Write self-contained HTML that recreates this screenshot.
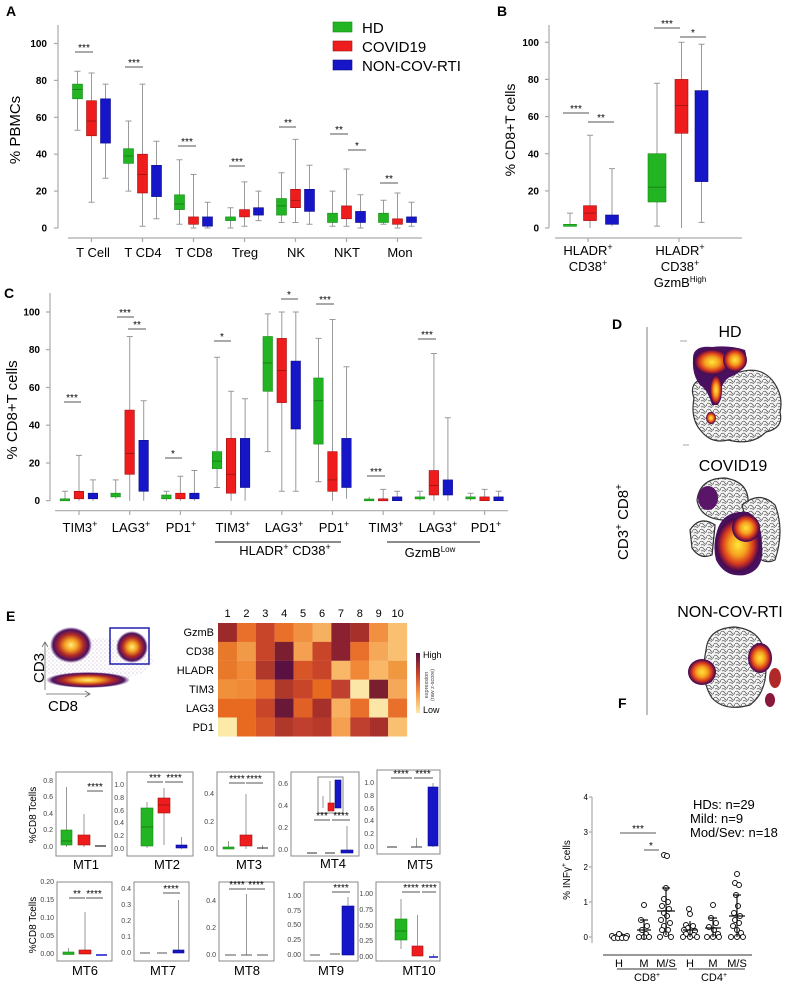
<!DOCTYPE html>
<html><head><meta charset="utf-8"><style>
html,body{margin:0;padding:0;background:#fff}
svg{display:block;font-family:"Liberation Sans",sans-serif}
.w{stroke:#9a9a9a;stroke-width:1;fill:none}
.g{fill:#22b422;stroke:#178a17;stroke-width:.6}
.r{fill:#ee1c1c;stroke:#a01010;stroke-width:.6}
.b{fill:#1616c8;stroke:#0c0c88;stroke-width:.6}
.m{stroke:#000;stroke-opacity:.35;stroke-width:.8}
.ax{stroke:#aaa;stroke-width:1.2;fill:none}
.tk{font-size:10px;font-weight:bold;text-anchor:end}
.cat{font-size:13px;text-anchor:middle}
.sg{stroke:#555;stroke-width:1;fill:none}
.st{font-size:10px;text-anchor:middle}
.fr{fill:none;stroke:#888;stroke-width:1}
.mt{font-size:7px;text-anchor:end;fill:#444}
.ml{font-size:13px;text-anchor:middle}
.pl{font-size:14px;font-weight:bold}
.dot{fill:#fff;stroke:#111;stroke-width:1}
</style></head><body>
<svg width="800" height="984" viewBox="0 0 800 984" xmlns="http://www.w3.org/2000/svg">
<defs>
<radialGradient id="hm"><stop offset="0" stop-color="#ffe83a"/><stop offset=".4" stop-color="#f5a020"/><stop offset=".7" stop-color="#d83a1c"/><stop offset=".9" stop-color="#6a1048"/><stop offset="1" stop-color="#3a0a50"/></radialGradient>
<radialGradient id="fl"><stop offset="0" stop-color="#fff080"/><stop offset=".3" stop-color="#f5a020"/><stop offset=".6" stop-color="#b02828"/><stop offset=".85" stop-color="#4a1060"/><stop offset="1" stop-color="#4a1060" stop-opacity="0"/></radialGradient>
<pattern id="ct" width="7" height="6" patternUnits="userSpaceOnUse"><rect width="7" height="6" fill="#f4f4f4"/><path d="M0 2 Q2 0 4 3 T7 2M1 5 Q3 4 5 6" stroke="#555" stroke-width=".7" fill="none"/></pattern>
<pattern id="sp" width="4" height="4" patternUnits="userSpaceOnUse"><circle cx="1" cy="1" r=".5" fill="#4a1060"/><circle cx="3" cy="3" r=".4" fill="#4a1060"/></pattern>
</defs>

<!-- ============ PANEL A ============ -->
<text x="6" y="16" class="pl">A</text>
<line class="ax" x1="58" y1="25" x2="58" y2="228"/>
<line class="ax" x1="68" y1="238" x2="422" y2="238"/>
<g class="tk"><text x="47" y="231.5">0</text><text x="47" y="194.6">20</text><text x="47" y="157.7">40</text><text x="47" y="120.8">60</text><text x="47" y="83.9">80</text><text x="47" y="47">100</text></g>
<g class="ax"><line x1="54" y1="228" x2="58" y2="228"/><line x1="54" y1="191.1" x2="58" y2="191.1"/><line x1="54" y1="154.2" x2="58" y2="154.2"/><line x1="54" y1="117.3" x2="58" y2="117.3"/><line x1="54" y1="80.4" x2="58" y2="80.4"/><line x1="54" y1="43.5" x2="58" y2="43.5"/></g>
<text transform="translate(20,130) rotate(-90)" font-size="15" text-anchor="middle">% PBMCs</text>
<g class="ax"><line x1="91.5" y1="238" x2="91.5" y2="242"/><line x1="142.5" y1="238" x2="142.5" y2="242"/><line x1="193.5" y1="238" x2="193.5" y2="242"/><line x1="244.5" y1="238" x2="244.5" y2="242"/><line x1="295.5" y1="238" x2="295.5" y2="242"/><line x1="346.5" y1="238" x2="346.5" y2="242"/><line x1="397.5" y1="238" x2="397.5" y2="242"/></g>
<g class="cat"><text x="93" y="257">T Cell</text><text x="143" y="257">T CD4</text><text x="194" y="257">T CD8</text><text x="245" y="257">Treg</text><text x="296" y="257">NK</text><text x="347" y="257">NKT</text><text x="400" y="257">Mon</text></g>
<g>
<path class="w" d="M77.5 130.2V71.2M74.5 130.2h6M74.5 71.2h6"/><rect class="g" x="72.5" y="84.1" width="10" height="14.7"/><line class="m" x1="72.5" x2="82.5" y1="89.6" y2="89.6"/>
<path class="w" d="M91.5 202.2V73M88.5 202.2h6M88.5 73h6"/><rect class="r" x="86.5" y="100.7" width="10" height="35.1"/><line class="m" x1="86.5" x2="96.5" y1="121" y2="121"/>
<path class="w" d="M105.5 178.2V84.1M102.5 178.2h6M102.5 84.1h6"/><rect class="b" x="100.5" y="98.8" width="10" height="44.3"/>
<path class="w" d="M128.5 191.1V121M125.5 191.1h6M125.5 121h6"/><rect class="g" x="123.5" y="148.7" width="10" height="14.7"/><line class="m" x1="123.5" x2="133.5" y1="156" y2="156"/>
<path class="w" d="M142.5 226.2V84.1M139.5 226.2h6M139.5 84.1h6"/><rect class="r" x="137.5" y="154.2" width="10" height="38.8"/><line class="m" x1="137.5" x2="147.5" y1="174.5" y2="174.5"/>
<path class="w" d="M156.5 218.8V141.3M153.5 218.8h6M153.5 141.3h6"/><rect class="b" x="151.5" y="165.3" width="10" height="31.3"/>
<path class="w" d="M179.5 224.3V159.7M176.5 224.3h6M176.5 159.7h6"/><rect class="g" x="174.5" y="194.8" width="10" height="14.8"/><line class="m" x1="174.5" x2="184.5" y1="204" y2="204"/>
<path class="w" d="M193.5 228V174.5M190.5 228h6M190.5 174.5h6"/><rect class="r" x="188.5" y="216.9" width="10" height="7.4"/>
<path class="w" d="M207.5 228V202.2M204.5 228h6M204.5 202.2h6"/><rect class="b" x="202.5" y="216.9" width="10" height="9.3"/>
<path class="w" d="M230.5 228V207.7M227.5 228h6M227.5 207.7h6"/><rect class="g" x="225.5" y="216.9" width="10" height="3.7"/>
<path class="w" d="M244.5 226.2V181.9M241.5 226.2h6M241.5 181.9h6"/><rect class="r" x="239.5" y="209.6" width="10" height="7.3"/>
<path class="w" d="M258.5 220.6V191.1M255.5 220.6h6M255.5 191.1h6"/><rect class="b" x="253.5" y="207.7" width="10" height="7.4"/>
<path class="w" d="M281.5 222.5V172.7M278.5 222.5h6M278.5 172.7h6"/><rect class="g" x="276.5" y="198.5" width="10" height="16.6"/><line class="m" x1="276.5" x2="286.5" y1="205.9" y2="205.9"/>
<path class="w" d="M295.5 222.5V139.4M292.5 222.5h6M292.5 139.4h6"/><rect class="r" x="290.5" y="189.3" width="10" height="18.4"/><line class="m" x1="290.5" x2="300.5" y1="200.3" y2="200.3"/>
<path class="w" d="M309.5 224.3V165.3M306.5 224.3h6M306.5 165.3h6"/><rect class="b" x="304.5" y="189.3" width="10" height="22.1"/>
<path class="w" d="M332.5 226.2V191.1M329.5 226.2h6M329.5 191.1h6"/><rect class="g" x="327.5" y="213.2" width="10" height="9.3"/>
<path class="w" d="M346.5 226.2V169M343.5 226.2h6M343.5 169h6"/><rect class="r" x="341.5" y="205.9" width="10" height="12.9"/>
<path class="w" d="M360.5 228V194.8M357.5 228h6M357.5 194.8h6"/><rect class="b" x="355.5" y="211.4" width="10" height="11.1"/>
<path class="w" d="M383.5 224.3V200.3M380.5 224.3h6M380.5 200.3h6"/><rect class="g" x="378.5" y="213.2" width="10" height="9.3"/>
<path class="w" d="M397.5 228V193M394.5 228h6M394.5 193h6"/><rect class="r" x="392.5" y="218.8" width="10" height="5.5"/>
<path class="w" d="M411.5 226.2V202.2M408.5 226.2h6M408.5 202.2h6"/><rect class="b" x="406.5" y="216.9" width="10" height="5.6"/>
</g>
<path class="sg" d="M75 52h18M125 67h18M178 146h18M229 166h16M279 127h17M330 134h18M348 150h18M380 183h18"/>
<g class="st"><text x="84" y="51">***</text><text x="134" y="66">***</text><text x="187" y="145">***</text><text x="237" y="165">***</text><text x="288" y="126">**</text><text x="339" y="133">**</text><text x="357" y="149">*</text><text x="389" y="182">**</text></g>
<rect x="333" y="22" width="19" height="10" class="g"/><rect x="333" y="41" width="19" height="10" class="r"/><rect x="333" y="60" width="19" height="10" class="b"/>
<g font-size="15"><text x="362" y="33">HD</text><text x="362" y="52">COVID19</text><text x="362" y="71">NON-COV-RTI</text></g>

<!-- ============ PANEL B ============ -->
<text x="497" y="16" class="pl">B</text>
<line class="ax" x1="549" y1="25" x2="549" y2="228"/>
<line class="ax" x1="555" y1="238" x2="742" y2="238"/>
<g class="tk"><text x="539" y="231.5">0</text><text x="539" y="194.4">20</text><text x="539" y="157.3">40</text><text x="539" y="120.1">60</text><text x="539" y="83">80</text><text x="539" y="45.8">100</text></g>
<g class="ax"><line x1="545" y1="228" x2="549" y2="228"/><line x1="545" y1="190.9" x2="549" y2="190.9"/><line x1="545" y1="153.7" x2="549" y2="153.7"/><line x1="545" y1="116.6" x2="549" y2="116.6"/><line x1="545" y1="79.4" x2="549" y2="79.4"/><line x1="545" y1="42.3" x2="549" y2="42.3"/><line x1="588" y1="238" x2="588" y2="242"/><line x1="679" y1="238" x2="679" y2="242"/></g>
<text transform="translate(515,130) rotate(-90)" font-size="14" text-anchor="middle">% CD8+T cells</text>
<path class="w" d="M570 226.1V213.1M567 213.1h6M590 228V135.2M587 135.2h6M612 226.1V168.6M609 168.6h6M657 226.1V83.2M654 226.1h6M654 83.2h6M681.5 228V42.3M678.5 42.3h6M701.5 222.4V44.2M698.5 222.4h6M698.5 44.2h6"/>
<rect class="g" x="563.5" y="224.3" width="13" height="2"/>
<rect class="r" x="583.5" y="205.7" width="13" height="14.9"/><line class="m" x1="583.5" x2="596.5" y1="213.1" y2="213.1"/>
<rect class="b" x="605.5" y="215" width="13" height="9.3"/>
<rect class="g" x="648" y="153.7" width="18" height="48.3"/><line class="m" x1="648" x2="666" y1="187.1" y2="187.1"/>
<rect class="r" x="675" y="79.4" width="13" height="53.9"/><line class="m" x1="675" x2="688" y1="105.4" y2="105.4"/>
<rect class="b" x="695" y="90.6" width="13" height="91"/>
<path class="sg" d="M563 113h26M588 122h26M654 28h26M680 37h26"/>
<g class="st"><text x="576" y="112">***</text><text x="601" y="121">**</text><text x="667" y="27">***</text><text x="693" y="36">*</text></g>
<g class="cat"><text x="588" y="255">HLADR<tspan font-size="9" dy="-5">+</tspan></text><text x="588" y="271">CD38<tspan font-size="9" dy="-5">+</tspan></text>
<text x="680" y="255">HLADR<tspan font-size="9" dy="-5">+</tspan></text><text x="680" y="271">CD38<tspan font-size="9" dy="-5">+</tspan></text><text x="680" y="287">GzmB<tspan font-size="8" dy="-5">High</tspan></text></g>

<!-- ============ PANEL C ============ -->
<text x="4" y="298" class="pl">C</text>
<line class="ax" x1="50" y1="293" x2="50" y2="501"/>
<line class="ax" x1="55" y1="510.7" x2="508" y2="510.7"/>
<g class="tk"><text x="40" y="504.2">0</text><text x="40" y="466.5">20</text><text x="40" y="428.7">40</text><text x="40" y="391">60</text><text x="40" y="353.2">80</text><text x="40" y="315.5">100</text></g>
<g class="ax"><line x1="46" y1="500.7" x2="50" y2="500.7"/><line x1="46" y1="463" x2="50" y2="463"/><line x1="46" y1="425.2" x2="50" y2="425.2"/><line x1="46" y1="387.5" x2="50" y2="387.5"/><line x1="46" y1="349.7" x2="50" y2="349.7"/><line x1="46" y1="312" x2="50" y2="312"/>
<line x1="79" y1="511" x2="79" y2="515"/><line x1="129.7" y1="511" x2="129.7" y2="515"/><line x1="180.4" y1="511" x2="180.4" y2="515"/><line x1="231.1" y1="511" x2="231.1" y2="515"/><line x1="281.8" y1="511" x2="281.8" y2="515"/><line x1="332.5" y1="511" x2="332.5" y2="515"/><line x1="383.2" y1="511" x2="383.2" y2="515"/><line x1="433.9" y1="511" x2="433.9" y2="515"/><line x1="484.6" y1="511" x2="484.6" y2="515"/></g>
<text transform="translate(17,410) rotate(-90)" font-size="15" text-anchor="middle">% CD8+T cells</text>
<g class="cat">
<text x="80" y="532">TIM3<tspan font-size="9" dy="-5">+</tspan></text><text x="131" y="532">LAG3<tspan font-size="9" dy="-5">+</tspan></text><text x="181" y="532">PD1<tspan font-size="9" dy="-5">+</tspan></text>
<text x="233" y="532">TIM3<tspan font-size="9" dy="-5">+</tspan></text><text x="284" y="532">LAG3<tspan font-size="9" dy="-5">+</tspan></text><text x="334" y="532">PD1<tspan font-size="9" dy="-5">+</tspan></text>
<text x="386" y="532">TIM3<tspan font-size="9" dy="-5">+</tspan></text><text x="438" y="532">LAG3<tspan font-size="9" dy="-5">+</tspan></text><text x="486" y="532">PD1<tspan font-size="9" dy="-5">+</tspan></text>
<text x="285" y="555">HLADR<tspan font-size="9" dy="-5">+</tspan><tspan dy="5"> CD38</tspan><tspan font-size="9" dy="-5">+</tspan></text>
<text x="430" y="557">GzmB<tspan font-size="8" dy="-5">Low</tspan></text></g>
<path d="M215 542H341M387 542H480" stroke="#666" stroke-width="1.5"/>
<path class="w" d="M65 500.7V491.3M62 491.3h6M79 500.7V455.4M76 455.4h6M93 500.7V479.9M90 479.9h6
M115.7 498.8V479.9M112.7 479.9h6M129.7 500.7V336.5M126.7 336.5h6M143.7 500.7V400.7M140.7 400.7h6
M166.4 500.7V491.3M163.4 491.3h6M180.4 500.7V476.2M177.4 476.2h6M194.4 500.7V470.5M191.4 470.5h6
M217.1 487.5V357.3M214.1 487.5h6M214.1 357.3h6M231.1 500.7V391.3M228.1 391.3h6M245.1 500.7V398.8M242.1 398.8h6
M267.8 451.6V313.9M264.8 451.6h6M264.8 313.9h6M281.8 491.3V312M278.8 491.3h6M278.8 312h6M295.8 491.3V312M292.8 491.3h6M292.8 312h6
M318.5 481.8V338.4M315.5 481.8h6M315.5 338.4h6M332.5 500.7V319.5M329.5 319.5h6M346.5 498.8V366.7M343.5 366.7h6
M369.2 500.7V496.9M383.2 500.7V489.4M380.2 489.4h6M397.2 500.7V491.3M394.2 491.3h6
M419.9 500.7V491.3M416.9 491.3h6M433.9 500.7V353.5M430.9 353.5h6M447.9 500.7V417.7M444.9 417.7h6
M470.6 500.7V493.2M467.6 493.2h6M484.6 500.7V489.4M481.6 489.4h6M498.6 500.7V491.3M495.6 491.3h6"/>
<rect class="g" x="60.2" y="498.8" width="9.5" height="2"/><rect class="r" x="74.2" y="491.3" width="9.5" height="7.5"/><rect class="b" x="88.2" y="493.2" width="9.5" height="5.6"/>
<rect class="g" x="110.9" y="493.2" width="9.5" height="3.7"/><rect class="r" x="124.9" y="410.1" width="9.5" height="64.2"/><line class="m" x1="124.9" x2="134.4" y1="453.5" y2="453.5"/><rect class="b" x="138.9" y="440.3" width="9.5" height="51"/>
<rect class="g" x="161.6" y="495" width="9.5" height="3.8"/><rect class="r" x="175.6" y="493.2" width="9.5" height="5.6"/><rect class="b" x="189.6" y="493.2" width="9.5" height="5.6"/>
<rect class="g" x="212.3" y="451.6" width="9.5" height="17"/><line class="m" x1="212.3" x2="221.8" y1="461.1" y2="461.1"/><rect class="r" x="226.3" y="438.4" width="9.5" height="54.8"/><line class="m" x1="226.3" x2="235.8" y1="474.3" y2="474.3"/><rect class="b" x="240.3" y="438.4" width="9.5" height="49.1"/>
<rect class="g" x="263" y="336.5" width="9.5" height="54.8"/><line class="m" x1="263" x2="272.5" y1="363" y2="363"/><rect class="r" x="277" y="338.4" width="9.5" height="64.2"/><line class="m" x1="277" x2="286.5" y1="370.5" y2="370.5"/><rect class="b" x="291" y="361.1" width="9.5" height="67.9"/>
<rect class="g" x="313.7" y="378" width="9.5" height="66.1"/><line class="m" x1="313.7" x2="323.2" y1="400.7" y2="400.7"/><rect class="r" x="327.7" y="451.6" width="9.5" height="39.7"/><line class="m" x1="327.7" x2="337.2" y1="479.9" y2="479.9"/><rect class="b" x="341.7" y="438.4" width="9.5" height="49.1"/>
<rect class="g" x="364.4" y="499" width="9.5" height="1.8"/><rect class="r" x="378.4" y="498.8" width="9.5" height="2"/><rect class="b" x="392.4" y="496.9" width="9.5" height="3.8"/>
<rect class="g" x="415.1" y="496.9" width="9.5" height="2"/><rect class="r" x="429.1" y="470.5" width="9.5" height="24.5"/><line class="m" x1="429.1" x2="438.6" y1="485.6" y2="485.6"/><rect class="b" x="443.1" y="479.9" width="9.5" height="15.1"/>
<rect class="g" x="465.8" y="496.9" width="9.5" height="2"/><rect class="r" x="479.8" y="496.9" width="9.5" height="3.8"/><rect class="b" x="493.8" y="496.9" width="9.5" height="3.8"/>
<path class="sg" d="M64 402h17M117 317h17M128 329h18M165 458h17M214 341h17M281 299h17M316 304h18M367 476h18M418 339h18"/>
<g class="st"><text x="72" y="401">***</text><text x="125" y="316">***</text><text x="137" y="328">**</text><text x="173" y="457">*</text><text x="222" y="340">*</text><text x="289" y="298">*</text><text x="325" y="303">***</text><text x="376" y="475">***</text><text x="427" y="338">***</text></g>

<!-- ============ PANEL D ============ -->
<text x="612" y="329" class="pl">D</text>
<line x1="647" y1="327" x2="647" y2="715" stroke="#aaa" stroke-width="1.5"/>
<text transform="translate(628,522) rotate(-90)" font-size="15" text-anchor="middle">CD3<tspan font-size="10" dy="-6">+</tspan><tspan dy="6"> CD8</tspan><tspan font-size="10" dy="-6">+</tspan></text>
<g font-size="16" text-anchor="middle"><text x="730" y="337">HD</text><text x="733" y="471">COVID19</text><text x="730" y="617">NON-COV-RTI</text></g>
<path d="M680 341h7M683 445h6" stroke="#aaa"/>
<!-- HD -->
<path d="M694 398 Q688 382 705 378 Q712 370 740 372 Q760 366 772 380 Q784 395 780 412 Q784 428 766 432 Q752 446 728 440 Q712 444 702 432 Q690 420 694 398Z" fill="url(#ct)" stroke="#333" stroke-width="1.2"/>
<path d="M693 360 Q692 345 712 347 Q730 345 745 350 Q750 365 735 375 Q722 378 720 395 L718 405 L712 405 Q708 390 700 385 Q692 375 693 360Z" fill="#4a1060"/>
<ellipse cx="712" cy="362" rx="18" ry="13" fill="url(#hm)"/>
<ellipse cx="735" cy="360" rx="12" ry="12" fill="url(#hm)"/>
<ellipse cx="716" cy="390" rx="6" ry="15" fill="url(#hm)"/>
<ellipse cx="711" cy="418" rx="5" ry="6" fill="url(#hm)"/>
<!-- COVID -->
<path d="M697 500 Q700 478 725 478 Q750 482 748 505 Q745 520 722 520 Q700 518 697 500Z" fill="url(#ct)" stroke="#333" stroke-width="1.2"/>
<path d="M742 505 Q760 490 775 505 Q785 530 775 560 Q765 565 755 555Z" fill="url(#ct)" stroke="#333" stroke-width="1.2"/>
<path d="M690 530 Q700 515 715 525 L712 555 Q700560 692 548Z" fill="url(#ct)" stroke="#333" stroke-width="1.2"/>
<path d="M690 530 Q700 515 715 525 L712 555 Q700 560 692 548Z" fill="url(#ct)" stroke="#333" stroke-width="1.2"/>
<ellipse cx="708" cy="498" rx="10" ry="12" fill="#5a1468"/>
<path d="M718 528 Q725 510 748 512 Q762 520 762 545 Q765 570 745 575 Q725 578 716 560 Q712 545 718 528Z" fill="#4a1060"/>
<ellipse cx="738" cy="545" rx="22" ry="27" fill="url(#hm)"/>
<ellipse cx="746" cy="528" rx="14" ry="14" fill="url(#hm)"/>
<!-- NON-COV -->
<path d="M706 650 Q708 628 735 627 Q762 630 765 655 Q770 690 750 705 Q725 712 712 698 Q700 680 706 650Z" fill="url(#ct)" stroke="#333" stroke-width="1.2"/>
<ellipse cx="702" cy="672" rx="14" ry="13" fill="url(#hm)"/>
<ellipse cx="760" cy="658" rx="12" ry="15" fill="url(#hm)"/>
<ellipse cx="775" cy="678" rx="6" ry="10" fill="#b02828"/>
<ellipse cx="770" cy="700" rx="5" ry="7" fill="#8a1838"/>

<!-- ============ PANEL E ============ -->
<text x="6" y="621" class="pl">E</text>
<g>
<ellipse cx="95" cy="660" rx="58" ry="22" fill="url(#sp)" opacity=".5"/>
<ellipse cx="88" cy="680" rx="42" ry="8" fill="url(#fl)"/>
<ellipse cx="71" cy="645" rx="21" ry="18" fill="url(#fl)"/>
<ellipse cx="132" cy="647" rx="16" ry="16" fill="url(#fl)"/>
</g>
<rect x="110" y="628" width="39" height="36" fill="none" stroke="#2020b0" stroke-width="1.5"/>
<path d="M45 690V643M42 647L45 642L48 647M46 694H89M85 691L90 694L85 697" stroke="#666" fill="none" stroke-width=".8"/>
<text transform="translate(44,668) rotate(-90)" font-size="15" text-anchor="middle">CD3</text>
<text x="63" y="711" font-size="15" text-anchor="middle">CD8</text>
<g font-size="11" text-anchor="middle"><text x="227.5" y="617">1</text><text x="246.4" y="617">2</text><text x="265.3" y="617">3</text><text x="284.2" y="617">4</text><text x="303.1" y="617">5</text><text x="322" y="617">6</text><text x="340.9" y="617">7</text><text x="359.8" y="617">8</text><text x="378.7" y="617">9</text><text x="397.6" y="617">10</text></g>
<g font-size="11" text-anchor="end"><text x="214" y="636">GzmB</text><text x="214" y="655">CD38</text><text x="214" y="674">HLADR</text><text x="214" y="693">TIM3</text><text x="214" y="712">LAG3</text><text x="214" y="731">PD1</text></g>
<g>
<rect x="218" y="623" width="19" height="19" fill="#9c2a2a"/><rect x="236.9" y="623" width="19" height="19" fill="#e8702a"/><rect x="255.8" y="623" width="19" height="19" fill="#c8452a"/><rect x="274.7" y="623" width="19" height="19" fill="#e8702a"/><rect x="293.6" y="623" width="19" height="19" fill="#f09040"/><rect x="312.5" y="623" width="19" height="19" fill="#f5b060"/><rect x="331.4" y="623" width="19" height="19" fill="#8a2030"/><rect x="350.3" y="623" width="19" height="19" fill="#a8302a"/><rect x="369.2" y="623" width="19" height="19" fill="#f09040"/><rect x="388.1" y="623" width="19" height="19" fill="#f8c070"/>
<rect x="218" y="641.9" width="19" height="19" fill="#e8782a"/><rect x="236.9" y="641.9" width="19" height="19" fill="#f09a48"/><rect x="255.8" y="641.9" width="19" height="19" fill="#c8452a"/><rect x="274.7" y="641.9" width="19" height="19" fill="#7a1e30"/><rect x="293.6" y="641.9" width="19" height="19" fill="#f5a050"/><rect x="312.5" y="641.9" width="19" height="19" fill="#c8452a"/><rect x="331.4" y="641.9" width="19" height="19" fill="#8a2030"/><rect x="350.3" y="641.9" width="19" height="19" fill="#e8702a"/><rect x="369.2" y="641.9" width="19" height="19" fill="#f5a858"/><rect x="388.1" y="641.9" width="19" height="19" fill="#f8c070"/>
<rect x="218" y="660.8" width="19" height="19" fill="#e8782a"/><rect x="236.9" y="660.8" width="19" height="19" fill="#f08a38"/><rect x="255.8" y="660.8" width="19" height="19" fill="#b0382a"/><rect x="274.7" y="660.8" width="19" height="19" fill="#5a1040"/><rect x="293.6" y="660.8" width="19" height="19" fill="#d85528"/><rect x="312.5" y="660.8" width="19" height="19" fill="#c8452a"/><rect x="331.4" y="660.8" width="19" height="19" fill="#f8b868"/><rect x="350.3" y="660.8" width="19" height="19" fill="#f08838"/><rect x="369.2" y="660.8" width="19" height="19" fill="#f8b868"/><rect x="388.1" y="660.8" width="19" height="19" fill="#f0983f"/>
<rect x="218" y="679.7" width="19" height="19" fill="#f0903a"/><rect x="236.9" y="679.7" width="19" height="19" fill="#f08a38"/><rect x="255.8" y="679.7" width="19" height="19" fill="#e8702a"/><rect x="274.7" y="679.7" width="19" height="19" fill="#b0382a"/><rect x="293.6" y="679.7" width="19" height="19" fill="#c8452a"/><rect x="312.5" y="679.7" width="19" height="19" fill="#e86a20"/><rect x="331.4" y="679.7" width="19" height="19" fill="#c04030"/><rect x="350.3" y="679.7" width="19" height="19" fill="#fbe6a8"/><rect x="369.2" y="679.7" width="19" height="19" fill="#7a1e30"/><rect x="388.1" y="679.7" width="19" height="19" fill="#f5a858"/>
<rect x="218" y="698.6" width="19" height="19" fill="#e86a20"/><rect x="236.9" y="698.6" width="19" height="19" fill="#e86a20"/><rect x="255.8" y="698.6" width="19" height="19" fill="#c8452a"/><rect x="274.7" y="698.6" width="19" height="19" fill="#6a1838"/><rect x="293.6" y="698.6" width="19" height="19" fill="#e06025"/><rect x="312.5" y="698.6" width="19" height="19" fill="#a8302a"/><rect x="331.4" y="698.6" width="19" height="19" fill="#f8b060"/><rect x="350.3" y="698.6" width="19" height="19" fill="#e8702a"/><rect x="369.2" y="698.6" width="19" height="19" fill="#fbe6a8"/><rect x="388.1" y="698.6" width="19" height="19" fill="#e8702a"/>
<rect x="218" y="717.5" width="19" height="19" fill="#fbeaa8"/><rect x="236.9" y="717.5" width="19" height="19" fill="#e86a20"/><rect x="255.8" y="717.5" width="19" height="19" fill="#d85528"/><rect x="274.7" y="717.5" width="19" height="19" fill="#b0382a"/><rect x="293.6" y="717.5" width="19" height="19" fill="#c04030"/><rect x="312.5" y="717.5" width="19" height="19" fill="#b8382a"/><rect x="331.4" y="717.5" width="19" height="19" fill="#f5a050"/><rect x="350.3" y="717.5" width="19" height="19" fill="#c04030"/><rect x="369.2" y="717.5" width="19" height="19" fill="#a8302a"/><rect x="388.1" y="717.5" width="19" height="19" fill="#f8c070"/>
</g>
<defs><linearGradient id="cb" x1="0" y1="0" x2="0" y2="1"><stop offset="0" stop-color="#5a1040"/><stop offset=".35" stop-color="#c8452a"/><stop offset=".7" stop-color="#f5a050"/><stop offset="1" stop-color="#fbeaa8"/></linearGradient></defs>
<rect x="416" y="653" width="4" height="60" fill="url(#cb)"/>
<text x="423" y="658" font-size="9">High</text><text x="423" y="713" font-size="9">Low</text>
<text transform="translate(428,685) rotate(-90)" font-size="5.5" text-anchor="middle" fill="#444">expression</text>
<text transform="translate(434,685) rotate(-90)" font-size="5.5" text-anchor="middle" fill="#444">(raw z-score)</text>

<text transform="translate(36,815) rotate(-90)" font-size="10" text-anchor="middle">%CD8 Tcells</text>
<text transform="translate(36,925) rotate(-90)" font-size="10" text-anchor="middle">%CD8 Tcells</text>
<g class="fr"><rect x="56" y="772" width="56" height="84"/><rect x="127" y="772" width="66" height="84"/><rect x="217" y="772" width="57" height="84"/><rect x="291" y="772" width="68" height="84"/><rect x="377" y="770" width="63" height="84"/>
<rect x="57" y="882" width="55" height="79"/><rect x="134" y="882" width="55" height="79"/><rect x="219" y="882" width="55" height="79"/><rect x="304" y="882" width="54" height="79"/><rect x="376" y="882" width="64" height="79"/></g>
<g class="ml"><text x="86" y="869">MT1</text><text x="167" y="869">MT2</text><text x="249" y="869">MT3</text><text x="333" y="868">MT4</text><text x="420" y="869">MT5</text>
<text x="85" y="975">MT6</text><text x="163" y="975">MT7</text><text x="247" y="975">MT8</text><text x="331" y="975">MT9</text><text x="419" y="975">MT10</text></g>
<g class="mt">
<text x="53" y="849">0.0</text><text x="53" y="832">0.2</text><text x="53" y="816">0.4</text><text x="53" y="799">0.6</text><text x="53" y="783">0.8</text>
<text x="124" y="851">0.0</text><text x="124" y="838">0.2</text><text x="124" y="825">0.4</text><text x="124" y="813">0.6</text><text x="124" y="800">0.8</text><text x="124" y="787">1.0</text>
<text x="214" y="851">0.0</text><text x="214" y="824">0.2</text><text x="214" y="796">0.4</text>
<text x="288" y="852">0.0</text><text x="288" y="830">0.2</text><text x="288" y="808">0.4</text><text x="288" y="786">0.6</text>
<text x="374" y="849">0.0</text><text x="374" y="836">0.2</text><text x="374" y="823">0.4</text><text x="374" y="811">0.6</text><text x="374" y="798">0.8</text><text x="374" y="785">1.0</text>
<text x="54" y="956">0.00</text><text x="54" y="938">0.05</text><text x="54" y="920">0.10</text><text x="54" y="902">0.15</text><text x="54" y="884">0.20</text>
<text x="131" y="955">0.0</text><text x="131" y="939">0.1</text><text x="131" y="923">0.2</text><text x="131" y="907">0.3</text><text x="131" y="891">0.4</text>
<text x="216" y="957">0.0</text><text x="216" y="930">0.2</text><text x="216" y="903">0.4</text>
<text x="301" y="957">0.00</text><text x="301" y="942">0.25</text><text x="301" y="927">0.50</text><text x="301" y="913">0.75</text><text x="301" y="898">1.00</text>
<text x="373" y="959">0.00</text><text x="373" y="943">0.25</text><text x="373" y="928">0.50</text><text x="373" y="912">0.75</text><text x="373" y="896">1.00</text>
</g>
<path class="w" d="M66.5 847V787M84 847V814M147 848V802M164 845V788M181.5 849V837M228.5 849V841M246 849V794M262.5 849V845M347 853V826M416.5 847V838M433 847V783M68.5 954V948M85 954V912M178.5 953V900M246.5 955V894M417.5 956V915M401 949V899M433.5 957V954"/>
<rect class="g" x="61" y="830" width="11" height="15"/><line class="m" x1="61" x2="72" y1="841" y2="841"/>
<rect class="r" x="78" y="835" width="12" height="10"/>
<line x1="95" x2="106" y1="846" y2="846" stroke="#222" stroke-width="1.2"/>
<rect class="g" x="141" y="808" width="12" height="38"/><line class="m" x1="141" x2="153" y1="827" y2="827"/>
<rect class="r" x="158" y="798" width="12" height="15"/><line class="m" x1="158" x2="170" y1="805" y2="805"/>
<rect class="b" x="176" y="845" width="11" height="3"/>
<rect class="g" x="223" y="847" width="11" height="2"/><rect class="r" x="240" y="835" width="12" height="11"/><line x1="257" x2="268" y1="848" y2="848" stroke="#222"/>
<line x1="307" x2="317" y1="853" y2="853" stroke="#333"/><line x1="325" x2="335" y1="853" y2="853" stroke="#333"/><rect class="b" x="341" y="850" width="12" height="3"/>
<rect x="318" y="777" width="25" height="36" fill="#fff" stroke="#888"/>
<path class="w" d="M323 808V796M330 810V781"/><rect class="r" x="328" y="803" width="6" height="8"/><rect class="b" x="335" y="780" width="6" height="28"/>
<line x1="387" x2="397" y1="847" y2="847" stroke="#333"/><line x1="411" x2="422" y1="847" y2="847" stroke="#333"/><rect class="b" x="428" y="787" width="10" height="59"/>
<rect class="g" x="63" y="952" width="11" height="2.5"/><rect class="r" x="79" y="950" width="12" height="4"/><line x1="96" x2="107" y1="955" y2="955" stroke="#1616c8" stroke-width="1.5"/>
<line x1="140" x2="150" y1="953" y2="953" stroke="#555"/><line x1="157" x2="167" y1="953" y2="953" stroke="#555"/><rect class="b" x="173" y="950" width="11" height="3"/>
<line x1="225" x2="236" y1="955" y2="955" stroke="#555"/><line x1="241" x2="252" y1="955" y2="955" stroke="#555"/><line x1="257" x2="268" y1="955" y2="955" stroke="#555"/>
<line x1="310" x2="320" y1="955" y2="955" stroke="#555"/><line x1="330" x2="340" y1="954" y2="954" stroke="#555"/><rect class="b" x="342" y="906" width="12" height="49"/><path class="w" d="M348 906V897"/>
<rect class="g" x="395" y="919" width="12" height="21"/><line class="m" x1="395" x2="407" y1="931" y2="931"/>
<rect class="r" x="412" y="946" width="11" height="10"/><line x1="429" x2="438" y1="957" y2="957" stroke="#1616c8" stroke-width="1.5"/>
<path class="sg" d="M87 791h16M147 782h16M165 782h18M229 783h16M246 783h17M314 820h16M332 820h18M391 778h21M414 778h19M69 898h16M86 898h17M163 893h17M229 889h17M247 889h18M332 892h18M402 892h18M422 892h14"/>
<g class="st" font-size="8"><text x="95" y="790">****</text><text x="155" y="781">***</text><text x="174" y="781">****</text><text x="237" y="782">****</text><text x="254" y="782">****</text><text x="322" y="819">***</text><text x="341" y="819">****</text><text x="401" y="777">****</text><text x="423" y="777">****</text><text x="77" y="897">**</text><text x="94" y="897">****</text><text x="171" y="892">****</text><text x="237" y="888">****</text><text x="256" y="888">****</text><text x="341" y="891">****</text><text x="411" y="891">****</text><text x="429" y="891">****</text></g>

<!-- ============ PANEL F ============ -->
<text x="618" y="708" class="pl">F</text>
<line class="ax" x1="592" y1="797" x2="592" y2="943" stroke="#555"/>
<g class="ax" stroke="#555"><line x1="589" y1="797" x2="592" y2="797"/><line x1="589" y1="832" x2="592" y2="832"/><line x1="589" y1="867" x2="592" y2="867"/><line x1="589" y1="902" x2="592" y2="902"/><line x1="589" y1="937" x2="592" y2="937"/></g>
<g font-size="8" text-anchor="end"><text x="588" y="800">4</text><text x="588" y="835">3</text><text x="588" y="870">2</text><text x="588" y="905">1</text><text x="588" y="940">0</text></g>
<text transform="translate(570,870) rotate(-90)" font-size="10" text-anchor="middle">% INFγ<tspan font-size="7" dy="-4">+</tspan><tspan dy="4"> cells</tspan></text>
<g font-size="13"><text x="693" y="809">HDs: n=29</text><text x="690" y="823">Mild: n=9</text><text x="690" y="837">Mod/Sev: n=18</text></g>
<path class="sg" d="M620 833h36M644 850h15" stroke="#333"/>
<g class="st"><text x="638" y="832">***</text><text x="651" y="849">*</text></g>
<line x1="603" y1="955" x2="752" y2="955" stroke="#333"/>
<path d="M617 969H677M689 969H745" stroke="#333"/>
<g font-size="11" text-anchor="middle"><text x="619" y="967">H</text><text x="644" y="967">M</text><text x="666" y="967">M/S</text><text x="690" y="967">H</text><text x="713" y="967">M</text><text x="737" y="967">M/S</text>
<text x="647" y="981">CD8<tspan font-size="7" dy="-4">+</tspan></text><text x="714" y="981">CD4<tspan font-size="7" dy="-4">+</tspan></text></g>
<g class="dot">
<circle cx="612" cy="936" r="2.5"/><circle cx="616" cy="937" r="2.5"/><circle cx="620" cy="935" r="2.5"/><circle cx="624" cy="937" r="2.5"/><circle cx="627" cy="936" r="2.5"/><circle cx="614" cy="938" r="2.5"/><circle cx="618" cy="938" r="2.5"/><circle cx="622" cy="938" r="2.5"/><circle cx="626" cy="938" r="2.5"/><circle cx="619" cy="934" r="2.5"/>
<circle cx="644" cy="905" r="2.5"/><circle cx="641" cy="920" r="2.5"/><circle cx="647" cy="926" r="2.5"/><circle cx="642" cy="930" r="2.5"/><circle cx="646" cy="934" r="2.5"/><circle cx="639" cy="937" r="2.5"/><circle cx="644" cy="937" r="2.5"/><circle cx="649" cy="937" r="2.5"/>
<circle cx="664" cy="855" r="2.5"/><circle cx="667" cy="856" r="2.5"/><circle cx="666" cy="888" r="2.5"/><circle cx="664" cy="899" r="2.5"/><circle cx="668" cy="902" r="2.5"/><circle cx="662" cy="906" r="2.5"/><circle cx="669" cy="909" r="2.5"/><circle cx="664" cy="913" r="2.5"/><circle cx="667" cy="916" r="2.5"/><circle cx="661" cy="920" r="2.5"/><circle cx="670" cy="923" r="2.5"/><circle cx="664" cy="926" r="2.5"/><circle cx="668" cy="930" r="2.5"/><circle cx="662" cy="930" r="2.5"/><circle cx="666" cy="934" r="2.5"/><circle cx="660" cy="937" r="2.5"/><circle cx="671" cy="937" r="2.5"/>
<circle cx="689" cy="909" r="2.5"/><circle cx="690" cy="914" r="2.5"/><circle cx="686" cy="925" r="2.5"/><circle cx="693" cy="926" r="2.5"/><circle cx="688" cy="928" r="2.5"/><circle cx="684" cy="930" r="2.5"/><circle cx="695" cy="931" r="2.5"/><circle cx="690" cy="932" r="2.5"/><circle cx="686" cy="934" r="2.5"/><circle cx="694" cy="935" r="2.5"/><circle cx="683" cy="937" r="2.5"/><circle cx="690" cy="937" r="2.5"/><circle cx="697" cy="937" r="2.5"/>
<circle cx="713" cy="905" r="2.5"/><circle cx="711" cy="918" r="2.5"/><circle cx="716" cy="923" r="2.5"/><circle cx="709" cy="927" r="2.5"/><circle cx="714" cy="930" r="2.5"/><circle cx="718" cy="934" r="2.5"/><circle cx="707" cy="937" r="2.5"/><circle cx="713" cy="937" r="2.5"/><circle cx="719" cy="937" r="2.5"/>
<circle cx="737" cy="874" r="2.5"/><circle cx="735" cy="883" r="2.5"/><circle cx="739" cy="885" r="2.5"/><circle cx="736" cy="895" r="2.5"/><circle cx="738" cy="906" r="2.5"/><circle cx="734" cy="913" r="2.5"/><circle cx="740" cy="916" r="2.5"/><circle cx="735" cy="920" r="2.5"/><circle cx="739" cy="923" r="2.5"/><circle cx="733" cy="926" r="2.5"/><circle cx="737" cy="930" r="2.5"/><circle cx="741" cy="933" r="2.5"/><circle cx="731" cy="937" r="2.5"/><circle cx="737" cy="937" r="2.5"/><circle cx="743" cy="937" r="2.5"/>
</g>
<path d="M637 930h14M644 940V920M640 920h8M657 911h18M666 935V888M662 888h8M683 930h14M690 937V921M705 928h16M713 937V918M709 918h8M729 916h16M737 937V895M733 895h8" stroke="#111" stroke-width="1.2" fill="none"/>
</svg>
</body></html>
